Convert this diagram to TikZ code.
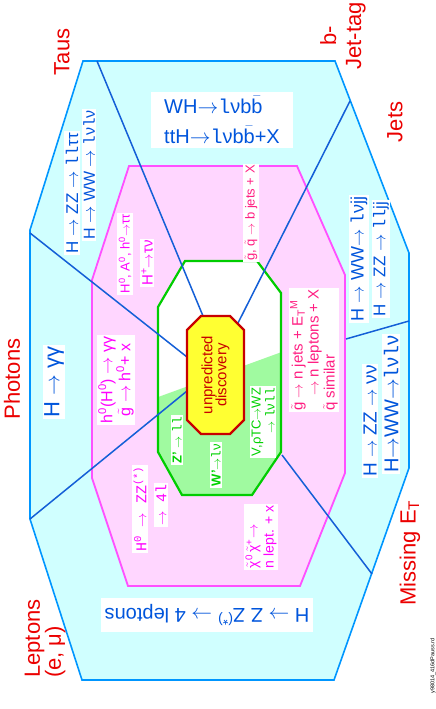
\documentclass[tikz,border=0pt]{standalone}
\usepackage{amsmath}
\usepackage{fontspec}
\setmainfont{Liberation Sans}
\setmonofont{Liberation Mono}
\usetikzlibrary{positioning}

\definecolor{cyanfill}{RGB}{208,255,255}
\definecolor{cyanline}{RGB}{0,150,255}
\definecolor{sepline}{RGB}{20,95,215}
\definecolor{pinkfill}{RGB}{255,214,255}
\definecolor{pinkline}{RGB}{255,80,255}
\definecolor{greenline}{RGB}{0,205,0}
\definecolor{greenfill}{RGB}{160,250,160}
\definecolor{discfill}{RGB}{255,255,50}
\definecolor{discline}{RGB}{200,0,0}
\definecolor{bluetext}{RGB}{0,85,220}
\definecolor{magtext}{RGB}{255,0,255}
\definecolor{rosetext}{RGB}{255,30,130}
\definecolor{greentext}{RGB}{0,210,0}
\definecolor{redlabel}{RGB}{235,0,0}

\newcommand{\el}{\texttt{l}}
\newcommand{\hi}[1]{\textsuperscript{#1}}
\newcommand{\decay}{\ensuremath{\rightarrow}}
\newcommand{\spart}[1]{\ensuremath{\tilde{\text{#1}}}}
\newcommand{\antib}{\ensuremath{\bar{\text{b}}}}

\begin{document}
\begin{tikzpicture}[x=1pt, y=-1pt,
        region/.style={line width=1.6pt, line join=miter},
        divider/.style={draw=sepline, line width=1.5pt},
        box/.style={fill=white, inner sep=1.5pt},
        chan/.style={box, text=bluetext, rotate=90},
        susy/.style={box, text=magtext, rotate=90},
        sqk/.style={box, text=rosetext, rotate=90},
        exo/.style={box, text=greentext, rotate=90},
        signature/.style={text=redlabel, inner sep=0pt, rotate=90, font=\fontsize{22}{25}\selectfont}]

    \useasboundingbox (0,0) rectangle (436,709);

    % outer ring: detector signatures
    \coordinate (o1) at (83,61);   \coordinate (o2) at (335,61);
    \coordinate (o3) at (409,253); \coordinate (o4) at (409,468);
    \coordinate (o5) at (334,680); \coordinate (o6) at (82,680);
    \coordinate (o7) at (30,519);  \coordinate (o8) at (30,230);
    \draw[region, draw=cyanline, fill=cyanfill] (o1) -- (o2) -- (o3) -- (o4) -- (o5) -- (o6) -- (o7) -- (o8) -- cycle;

    % middle ring: susy
    \coordinate (p1) at (129,166); \coordinate (p2) at (297,166);
    \coordinate (p3) at (345,275); \coordinate (p4) at (345,473);
    \coordinate (p5) at (300,586); \coordinate (p6) at (128,586);
    \coordinate (p7) at (92,478);  \coordinate (p8) at (92,280);
    \draw[region, line width=1.8pt, draw=pinkline, fill=pinkfill] (p1) -- (p2) -- (p3) -- (p4) -- (p5) -- (p6) -- (p7) -- (p8) -- cycle;

    % inner ring: new bosons
    \coordinate (g1) at (185,261); \coordinate (g2) at (257,261);
    \coordinate (g3) at (281,293); \coordinate (g4) at (281,452);
    \coordinate (g5) at (252,495); \coordinate (g6) at (182,495);
    \coordinate (g7) at (158,452); \coordinate (g8) at (158,307);
    \fill[white] (g1) -- (g2) -- (g3) -- (g4) -- (g5) -- (g6) -- (g7) -- (g8) -- cycle;
    \begin{scope}
        \clip (g1) -- (g2) -- (g3) -- (g4) -- (g5) -- (g6) -- (g7) -- (g8) -- cycle;
        \fill[greenfill] (150,400) -- (290,349) -- (290,500) -- (150,500) -- cycle;
    \end{scope}
    \draw[region, line width=2.2pt, draw=greenline] (g1) -- (g2) -- (g3) -- (g4) -- (g5) -- (g6) -- (g7) -- (g8) -- cycle;

    % sector dividers
    \coordinate (d1a) at (97,61);   \coordinate (d1b) at (203,316);
    \coordinate (d2a) at (350,101); \coordinate (d2b) at (238,323);
    \coordinate (d3a) at (30,233);  \coordinate (d3b) at (187,357);
    \coordinate (d4a) at (30,519);  \coordinate (d4b) at (187,391);
    \coordinate (d5a) at (372,574); \coordinate (d5b) at (282,455);
    \coordinate (d6a) at (409,321); \coordinate (d6b) at (346,339);
    \foreach \i in {1,...,6}
        \draw[divider] (d\i a) -- (d\i b);

    % standard model higgs channels
    \node[chan, font=\fontsize{17}{18}\selectfont] (tauzz) at (72,193) {H \decay{} ZZ \decay{} \el\el ττ};
    \node[chan, font=\fontsize{16}{18}\selectfont] (tauww) at (89,175) {H \decay{} WW \decay{} \el ν\el ν};
    \node[box, text=bluetext, inner xsep=13pt, inner ysep=4pt, align=left,
          font=\fontsize{20}{30}\selectfont] (btag) at (222,120) {WH\decay\el νb\antib\\ttH\decay\el νb\antib+X};
    \node[chan, font=\fontsize{22}{24}\selectfont] (hgg) at (54,382) {H \decay{} γγ};
    \node[box, text=bluetext, rotate=180, inner xsep=4pt, inner ysep=6pt, font=\fontsize{20}{22}\selectfont] (hfourl) at (207,615) {H \decay{} Z Z\hi{(*)} \decay{} 4 leptons};
    \node[chan, font=\fontsize{18}{20}\selectfont] (jetww) at (359,259) {H \decay{} WW\decay{} \el νjj};
    \node[chan, font=\fontsize{17}{19}\selectfont] (jetzz) at (381,259) {H \decay{} ZZ \decay{} \el\el jj};
    \node[chan, font=\fontsize{19}{21}\selectfont] (misszz) at (370,421) {H \decay{} ZZ \decay{} νν};
    \node[chan, font=\fontsize{20}{22}\selectfont] (missww) at (391,404) {H\decay WW\decay\el ν\el ν};

    % susy channels
    \node[susy, font=\fontsize{13}{15}\selectfont] (susytau) at (125,254) {H\hi{0}, A\hi{0}, h\hi{0}\decay ττ};
    \node[susy, font=\fontsize{15}{17}\selectfont] (chtau) at (147,263) {H\hi{+}\decay τν};
    \node[susy, align=center, font=\fontsize{16}{18}\selectfont] (susygg) at (116,380) {h\hi{0}(H\hi{0}) \decay{} γγ\\\spart{g} \decay{} h\hi{0}+ x};
    \node[susy, font=\ttfamily\fontsize{15}{16}\selectfont] (susyzz) at (140,509) {H\hi{0} \decay{} ZZ\hi{(*)}};
    \node[susy, font=\ttfamily\fontsize{15}{16}\selectfont] (susyfourl) at (161,505) {\decay{} 4l};
    \node[susy, align=left, font=\fontsize{14}{16}\selectfont] (gaugino) at (261,537) {\spart{χ}\hi{0}\,\spart{χ}\hi{+}\decay\\n lept. + x};
    \node[sqk, font=\fontsize{13}{15}\selectfont] (sqbjet) at (251,213) {\spart{g}, \spart{q} \decay{} b jets + X};
    \node[sqk, align=left, font=\fontsize{15}{16}\selectfont] (sqjet) at (314,350)
        {\spart{g} \decay{} n jets + E\textsubscript{T}\hi{M}\\\hspace{1em}\decay{} n leptons + X\\\spart{q} similar};

    % new gauge bosons
    \node[exo, font=\fontsize{13}{15}\selectfont] (zprime) at (177,440) {\textbf{Z'} \decay{} \el\el};
    \node[exo, font=\fontsize{13}{15}\selectfont] (wprime) at (216,465) {\textbf{W'}\decay\el ν};
    \node[exo, align=right, font=\fontsize{13}{14}\selectfont] (techni) at (263,422) {V,ρTC\decay WZ\\\decay{} \el ν\el\el};

    % centre
    \draw[fill=discfill, draw=discline, line width=2.2pt]
        (201,316) -- (230,316) -- (244,330) -- (244,420) -- (230,434) -- (201,434) -- (187,420) -- (187,330) -- cycle;
    \node[rotate=90, text=discline, align=center, inner sep=0pt, font=\fontsize{15}{14}\selectfont] (disc) at (215.5,375) {unpredicted\\discovery};

    % signature labels
    \node[signature] (taus) at (62,52) {Taus};
    \node[signature, align=center] (bjet) at (343,36) {b-\\Jet-tag};
    \node[signature] (jets) at (395,122) {Jets};
    \node[signature] (photons) at (12,379) {Photons};
    \node[signature, anchor=west, align=left, font=\fontsize{22}{21}\selectfont] (leptons) at (45,678) {Leptons\\(e, μ)};
    \node[signature] (misset) at (410,553) {Missing E\textsubscript{T}};
    \node[rotate=90, inner sep=0pt, font=\fontsize{5.5}{6}\selectfont] (tag) at (433,666) {y98014\_416dPauss.rd};
\end{tikzpicture}
\end{document}
